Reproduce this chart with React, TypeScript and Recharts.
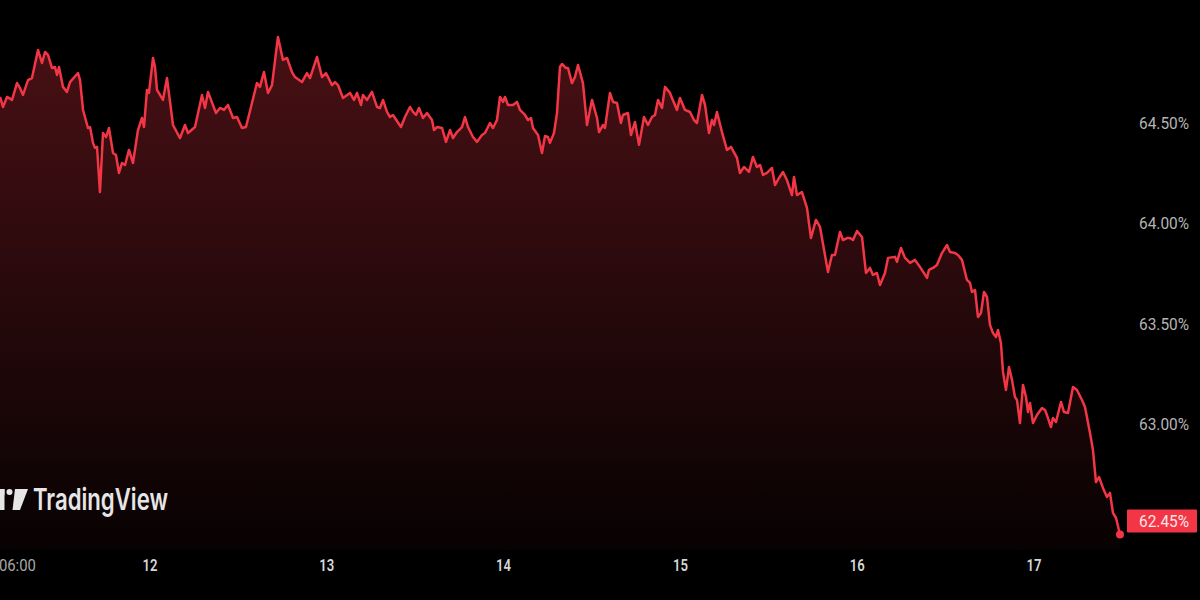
import { AreaChart, Area, XAxis, YAxis } from "recharts";

// hours since 00:00 on the 11th
const times = [
  3.64, 4.05, 4.59, 5.27, 5.95, 6.35, 6.76, 7.44, 7.98, 8.8, 9.34, 9.75, 10.15, 10.7, 11.1, 11.38, 11.65, 12.19, 12.73, 13.14,
  14.23, 14.5, 14.91, 15.58, 15.86, 16.26, 16.53, 16.81, 17.21, 17.62, 18.03, 18.43, 18.98, 19.38, 19.79, 20.2, 20.61, 21.15, 21.69, 22.37,
  22.91, 23.19, 23.59, 23.86, 24.41, 24.68, 24.95, 25.76, 26.31, 27.12, 28.07, 28.75, 29.16, 30.11, 31.06, 31.47, 31.87, 32.96, 33.5, 34.04,
  34.59, 35.27, 35.81, 36.49, 37.03, 38.52, 38.93, 39.47, 40.02, 40.56, 41.37, 42.05, 42.6, 43.27, 43.68, 44.63, 45.31, 45.72, 46.67, 47.35,
  47.89, 48.71, 49.11, 49.52, 50.2, 51.15, 51.69, 52.1, 52.64, 52.91, 53.46, 54.13, 54.81, 55.22, 55.63, 56.17, 56.58, 56.98, 58.07, 58.61,
  59.29, 59.7, 60.11, 60.51, 61.06, 61.6, 62.28, 62.55, 62.96, 63.64, 64.18, 64.72, 65.13, 65.67, 66.35, 66.76, 67.17, 67.84, 68.39, 69.06,
  69.47, 70.15, 70.56, 71.1, 71.51, 71.92, 72.19, 72.59, 73.27, 73.82, 74.22, 74.9, 75.31, 75.72, 75.99, 76.67, 77.21, 77.62, 78.02, 78.29,
  78.84, 79.25, 79.65, 79.93, 80.47, 80.74, 81.28, 81.69, 82.1, 82.77, 83.32, 84.0, 84.68, 84.95, 85.49, 85.76, 86.44, 86.85, 87.39, 87.93,
  88.2, 88.88, 89.29, 89.83, 90.38, 91.06, 91.6, 92.14, 92.55, 92.96, 93.5, 93.91, 94.58, 95.53, 95.94, 96.62, 97.3, 97.84, 98.25, 98.93,
  99.34, 99.88, 100.28, 100.56, 100.96, 101.64, 102.32, 102.86, 103.68, 104.08, 104.63, 105.31, 105.85, 106.39, 106.8, 107.21, 107.75, 108.43, 108.84, 109.38,
  109.92, 110.46, 111.14, 111.42, 111.82, 112.5, 113.18, 113.72, 114.4, 114.95, 116.03, 116.57, 116.98, 117.66, 118.07, 118.61, 119.02, 119.43, 119.97, 120.65,
  121.19, 121.73, 122.14, 122.68, 123.09, 123.77, 124.18, 125.13, 125.4, 125.94, 126.49, 127.17, 127.84, 128.52, 129.47, 129.74, 130.28, 130.82, 131.5, 132.19,
  132.59, 133.27, 133.68, 134.22, 134.9, 135.31, 135.58, 135.99, 136.39, 136.8, 137.21, 137.62, 138.02, 138.43, 138.84, 139.11, 139.51, 139.79, 140.19, 140.6,
  141.01, 141.41, 141.69, 142.09, 142.5, 142.91, 143.18, 143.45, 143.86, 144.4, 145.08, 145.49, 145.76, 146.3, 146.57, 146.98, 147.66, 148.07, 148.61, 149.29,
  149.83, 150.51, 150.92, 151.6, 152.0, 152.41, 152.82, 153.36, 153.9, 154.31, 154.72, 155.13, 155.67,
];

// percent values
const values = [
  64.63, 64.58, 64.63, 64.615, 64.699, 64.675, 64.64, 64.714, 64.724, 64.864, 64.799, 64.854, 64.839, 64.774, 64.779, 64.739, 64.779, 64.68, 64.655, 64.704,
  64.749, 64.714, 64.565, 64.475, 64.48, 64.401, 64.376, 64.381, 64.156, 64.45, 64.43, 64.475, 64.351, 64.341, 64.251, 64.301, 64.291, 64.366, 64.301, 64.465,
  64.525, 64.48, 64.665, 64.65, 64.824, 64.779, 64.665, 64.615, 64.724, 64.49, 64.425, 64.49, 64.45, 64.48, 64.64, 64.575, 64.655, 64.55, 64.575, 64.565,
  64.59, 64.525, 64.53, 64.475, 64.48, 64.699, 64.68, 64.754, 64.65, 64.689, 64.929, 64.814, 64.824, 64.754, 64.729, 64.704, 64.749, 64.724, 64.829, 64.729,
  64.749, 64.689, 64.704, 64.689, 64.625, 64.65, 64.615, 64.65, 64.59, 64.64, 64.615, 64.655, 64.58, 64.575, 64.615, 64.555, 64.53, 64.54, 64.48, 64.53,
  64.58, 64.555, 64.54, 64.575, 64.525, 64.55, 64.515, 64.465, 64.48, 64.475, 64.406, 64.465, 64.425, 64.455, 64.48, 64.53, 64.48, 64.43, 64.406, 64.44,
  64.45, 64.5, 64.475, 64.515, 64.63, 64.605, 64.63, 64.59, 64.59, 64.605, 64.565, 64.54, 64.515, 64.525, 64.475, 64.44, 64.351, 64.435, 64.43, 64.401,
  64.45, 64.55, 64.779, 64.794, 64.774, 64.774, 64.699, 64.729, 64.789, 64.699, 64.49, 64.615, 64.525, 64.455, 64.49, 64.475, 64.65, 64.605, 64.6, 64.5,
  64.54, 64.55, 64.44, 64.505, 64.391, 64.53, 64.49, 64.53, 64.54, 64.615, 64.575, 64.68, 64.65, 64.565, 64.625, 64.565, 64.555, 64.515, 64.5, 64.64,
  64.59, 64.45, 64.515, 64.49, 64.555, 64.455, 64.366, 64.381, 64.326, 64.251, 64.281, 64.256, 64.331, 64.281, 64.291, 64.241, 64.251, 64.276, 64.191, 64.226,
  64.256, 64.216, 64.141, 64.231, 64.141, 64.156, 64.077, 63.927, 64.017, 63.982, 63.758, 63.842, 63.842, 63.957, 63.917, 63.927, 63.927, 63.917, 63.962, 63.932,
  63.753, 63.778, 63.743, 63.753, 63.693, 63.753, 63.828, 63.833, 63.808, 63.877, 63.828, 63.803, 63.818, 63.783, 63.728, 63.768, 63.778, 63.793, 63.852, 63.892,
  63.857, 63.852, 63.842, 63.818, 63.718, 63.703, 63.658, 63.668, 63.534, 63.553, 63.658, 63.633, 63.494, 63.454, 63.434, 63.469, 63.404, 63.26, 63.17, 63.284,
  63.22, 63.135, 63.12, 63.005, 63.195, 63.135, 63.06, 63.105, 63.005, 63.045, 63.08, 63.07, 63.045, 62.985, 63.03, 63.01, 63.11, 63.06, 63.055, 63.185,
  63.17, 63.12, 63.085, 62.956, 62.871, 62.711, 62.736, 62.682, 62.637, 62.657, 62.557, 62.532, 62.45,
];

const xTicks = [6, 24, 48, 72, 96, 120, 144];
const xTickLabels = ["06:00", "12", "13", "14", "15", "16", "17"];
const yTicks = [62.45, 63, 63.5, 64, 64.5];
const lastValue = values[values.length - 1];

const RED = "#f23645";
const AXIS_FONT = "Roboto, sans-serif";

const data = times.map((t, i) => ({ t, v: values[i] }));

const XTick = (props: any) => {
  const { x, y, payload } = props;
  const i = xTicks.indexOf(payload.value);
  const label = xTickLabels[i] ?? "";
  const isDay = label.length === 2;
  return (
    <text
      x={x}
      y={y}
      dy="0.35em"
      textAnchor="middle"
      fill={isDay ? "#d6d6d6" : "#a8a8a8"}
      fontSize={17}
      fontFamily={AXIS_FONT}
      fontWeight={isDay ? 600 : 400}
      textLength={isDay ? 15 : 37}
      lengthAdjust="spacingAndGlyphs"
    >
      {label}
    </text>
  );
};

const YTick = (props: any) => {
  const { x, y, payload } = props;
  const label = payload.value.toFixed(2) + "%";
  if (payload.value === lastValue) {
    return (
      <g>
        <rect x={x - 12} y={y - 25} width={70} height={23} fill={RED} rx={1} />
        <text
          x={x}
          y={y - 13.5}
          dy="0.35em"
          fill="#ffe6e8"
          fontSize={17}
          fontFamily={AXIS_FONT}
          textLength={50}
          lengthAdjust="spacingAndGlyphs"
        >
          {label}
        </text>
      </g>
    );
  }
  return (
    <text
      x={x}
      y={y}
      dy="0.35em"
      fill="#b4b4b4"
      fontSize={17}
      fontFamily={AXIS_FONT}
      textLength={50}
      lengthAdjust="spacingAndGlyphs"
    >
      {label}
    </text>
  );
};

const EndDot = (props: any) => {
  const { cx, cy, index } = props;
  if (index !== data.length - 1) return <g key={index} />;
  return <circle key={index} cx={cx} cy={cy} r={4} fill={RED} />;
};

export default function App() {
  return (
    <div
      style={{
        position: "absolute",
        left: 0,
        top: 0,
        width: 1200,
        height: 600,
        background: "#000",
        overflow: "hidden",
      }}
    >
      <AreaChart width={1200} height={600} data={data} margin={{ top: 0, right: 0, bottom: 0, left: 0 }}>
        <defs>
          <linearGradient id="fillRed" x1="0" y1="0" x2="0" y2="1">
            <stop offset="0%" stopColor={RED} stopOpacity={0.3} />
            <stop offset="100%" stopColor={RED} stopOpacity={0.03} />
          </linearGradient>
        </defs>
        <XAxis
          dataKey="t"
          type="number"
          domain={[3.639, 156.35]}
          allowDataOverflow
          ticks={xTicks}
          interval={0}
          axisLine={false}
          tickLine={false}
          tickSize={0}
          tickMargin={15}
          height={50}
          tick={<XTick />}
        />
        <YAxis
          orientation="right"
          type="number"
          domain={[62.3725, 65.1129]}
          allowDataOverflow
          ticks={yTicks}
          interval={0}
          axisLine={false}
          tickLine={false}
          tickSize={0}
          tickMargin={14}
          width={75}
          tick={<YTick />}
        />
        <Area
          type="linear"
          dataKey="v"
          stroke={RED}
          strokeWidth={2.5}
          strokeLinejoin="round"
          fill="url(#fillRed)"
          fillOpacity={1}
          dot={<EndDot />}
          activeDot={false}
          isAnimationActive={false}
        />
      </AreaChart>
      <svg width={320} height={40} style={{ position: "absolute", left: 0, top: 480 }}>
        <g fill="#e6e6e6">
          <rect x={-10} y={9} width={14.5} height={6} />
          <rect x={0} y={9} width={4.5} height={21} />
          <circle cx={9.5} cy={12} r={3} />
          <polygon points="15,9 28,9 20,30 12.5,30" />
        </g>
        <text
          x={33}
          y={30}
          fill="#e6e6e6"
          fontSize={30}
          fontWeight={600}
          fontFamily="Inter, sans-serif"
          textLength={135}
          lengthAdjust="spacingAndGlyphs"
        >
          TradingView
        </text>
      </svg>
    </div>
  );
}
